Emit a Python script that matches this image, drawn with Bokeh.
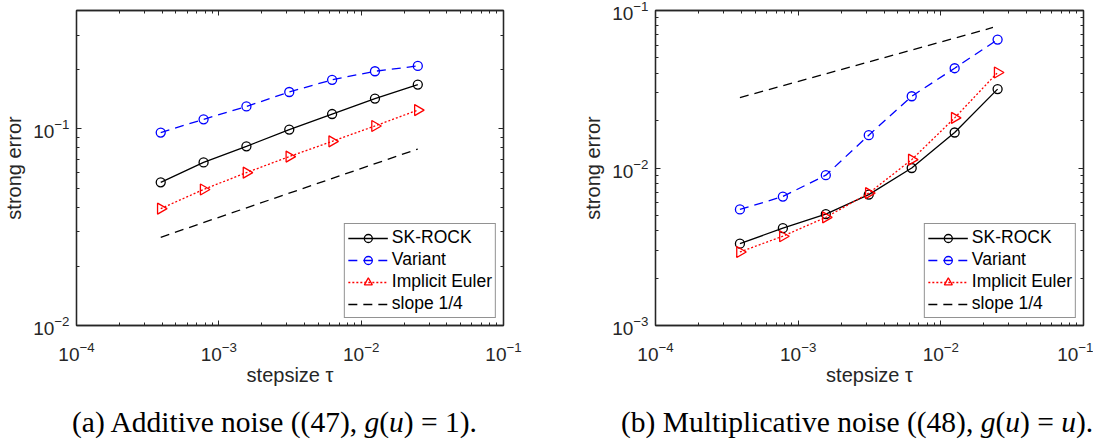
import math
from bokeh.plotting import figure
from bokeh.models import (LogAxis, FixedTicker, LogTickFormatter, Div, Legend,
                          LegendItem, Range1d)
from bokeh.layouts import row, column
from bokeh.embed import file_html
from bokeh.resources import INLINE

# ---------------- data ----------------
tau = [3.90625e-4, 7.8125e-4, 1.5625e-3, 3.125e-3, 6.25e-3, 1.25e-2, 2.5e-2]

# (a) additive noise
a_skrock = [0.0535, 0.0675, 0.0815, 0.0992, 0.119, 0.1426, 0.168]
a_variant = [0.0958, 0.1118, 0.130, 0.154, 0.1777, 0.1964, 0.209]
a_euler = [0.0393, 0.0492, 0.0599, 0.0723, 0.0864, 0.1035, 0.1246]
a_slope_x = [3.90625e-4, 2.5e-2]
a_slope_y = [0.0281, 0.079]

# (b) multiplicative noise
b_skrock = [3.31e-3, 4.15e-3, 5.1e-3, 6.78e-3, 1.0e-2, 0.0168, 0.0317]
b_variant = [5.46e-3, 6.59e-3, 9.0e-3, 0.01616, 0.02855, 0.043, 0.0654]
b_euler = [2.93e-3, 3.69e-3, 4.86e-3, 6.92e-3, 0.0113, 0.0208, 0.0404]
b_slope_x = [3.90625e-4, 2.32e-2]
b_slope_y = [0.028, 0.078]

x_major = [1e-4, 1e-3, 1e-2, 1e-1]
a_y_major = [1e-2, 1e-1]
b_y_major = [1e-3, 1e-2, 1e-1]

series_names = ["SK-ROCK", "Variant", "Implicit Euler", "slope 1/4"]
x_label = "stepsize τ"
y_label = "strong error"
cap_a = "(a) Additive noise ((47), <i>g</i>(<i>u</i>) = 1)."
cap_b = "(b) Multiplicative noise ((48), <i>g</i>(<i>u</i>) = <i>u</i>)."

AX = "#262626"
SANS = "Liberation Sans"


def minors(major):
    out = []
    for t in major[:-1]:
        out += [m * t for m in range(2, 10)]
    return out


def style_axis(ax, labels=True):
    ax.axis_line_color = AX
    ax.axis_line_width = 1.3
    ax.major_tick_in = 5
    ax.major_tick_out = 0
    ax.minor_tick_in = 3
    ax.minor_tick_out = 0
    ax.major_tick_line_color = AX
    ax.minor_tick_line_color = AX
    ax.major_tick_line_width = 1
    ax.minor_tick_line_width = 1
    if labels:
        ax.major_label_text_font = SANS
        ax.major_label_text_font_size = "19px"
        ax.major_label_text_color = AX
    else:
        ax.major_label_text_font_size = "1px"
        ax.major_label_text_alpha = 0
        ax.major_label_standoff = 0


def panel(skrock, variant, euler, sx, sy, y_major, y_rng, fw, bl, br):
    p = figure(x_axis_type="log", y_axis_type="log",
               x_range=Range1d(1e-4, 1e-1), y_range=Range1d(*y_rng),
               frame_width=fw, frame_height=315,
               min_border_left=bl, min_border_right=br,
               min_border_top=10, min_border_bottom=70,
               output_backend="svg", toolbar_location=None)
    p.grid.visible = False
    p.outline_line_color = AX
    p.outline_line_width = 1.3

    xt = FixedTicker(ticks=x_major, minor_ticks=minors(x_major))
    yminor = [m * t for t in y_major for m in range(2, 10) if m * t <= y_rng[1] * 1.0001]
    yt = FixedTicker(ticks=y_major, minor_ticks=yminor)

    xa = p.xaxis[0]
    ya = p.yaxis[0]
    xa.ticker = xt
    ya.ticker = yt
    xa.formatter = LogTickFormatter()
    ya.formatter = LogTickFormatter()
    style_axis(xa)
    style_axis(ya)
    xa.major_label_standoff = 16
    ya.major_label_standoff = 7
    xa.axis_label = x_label
    ya.axis_label = y_label
    for a, so in ((xa, 0), (ya, 5)):
        a.axis_label_text_font = SANS
        a.axis_label_text_font_size = "20px"
        a.axis_label_text_font_style = "normal"
        a.axis_label_text_color = AX
        a.axis_label_standoff = so

    top = LogAxis(ticker=FixedTicker(ticks=x_major, minor_ticks=minors(x_major)))
    right = LogAxis(ticker=FixedTicker(ticks=y_major, minor_ticks=yminor))
    style_axis(top, labels=False)
    style_axis(right, labels=False)
    p.add_layout(top, "above")
    p.add_layout(right, "right")

    l1 = p.line(tau, skrock, line_color="black", line_width=1.3)
    m1 = p.scatter(tau, skrock, marker="circle", size=9, fill_color=None,
                   line_color="black", line_width=1.3)
    l2 = p.line(tau, variant, line_color="#0000FF", line_width=1.3, line_dash="9 6")
    m2 = p.scatter(tau, variant, marker="circle", size=9, fill_color=None,
                   line_color="#0000FF", line_width=1.3)
    l3 = p.line(tau, euler, line_color="#FF0000", line_width=1.3, line_dash="2 2")
    m3 = p.scatter(tau, euler, marker="triangle", size=11, angle=-math.pi / 2,
                   fill_color=None, line_color="#FF0000", line_width=1.3)
    l4 = p.line(sx, sy, line_color="black", line_width=1.3, line_dash="9 6")

    leg = Legend(items=[
        LegendItem(label=series_names[0], renderers=[l1, m1]),
        LegendItem(label=series_names[1], renderers=[l2, m2]),
        LegendItem(label=series_names[2], renderers=[l3, m3]),
        LegendItem(label=series_names[3], renderers=[l4]),
    ], location="bottom_right")
    leg.glyph_width = 40
    leg.glyph_height = 20
    leg.label_height = 20
    leg.label_standoff = 4
    leg.padding = 3
    leg.spacing = 1
    leg.margin = 7
    leg.border_line_color = AX
    leg.border_line_width = 1.3
    leg.label_text_font = SANS
    leg.label_text_font_size = "17.5px"
    leg.label_text_color = "black"
    leg.background_fill_alpha = 1.0
    p.add_layout(leg)
    return p


pa = panel(a_skrock, a_variant, a_euler, a_slope_x, a_slope_y,
           a_y_major, (1e-2, 0.4), 427, 67, 48)
pb = panel(b_skrock, b_variant, b_euler, b_slope_x, b_slope_y,
           b_y_major, (1e-3, 1e-1), 428, 103, 10)

cap_style = ("font-family:'Liberation Serif';font-size:29.5px;line-height:20px;"
             "white-space:nowrap;color:black;padding-top:12px;")
da = Div(text=f"<div style=\"{cap_style}padding-left:67px;\">{cap_a}</div>",
         width=542, height=34)
db = Div(text=f"<div style=\"{cap_style}padding-left:64px;\">{cap_b}</div>",
         width=541, height=34)

layout = row(column(pa, da, spacing=0), column(pb, db, spacing=0), spacing=0)

open("out.html", "w").write(file_html(layout, INLINE))
